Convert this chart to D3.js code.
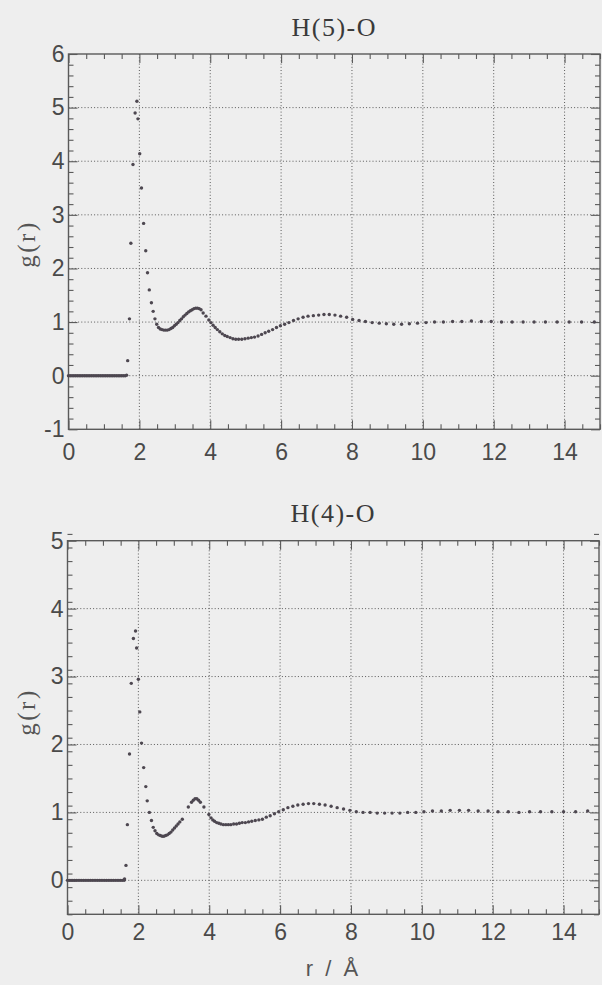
<!DOCTYPE html>
<html>
<head>
<meta charset="utf-8">
<script src="https://cdn.jsdelivr.net/npm/d3@7"></script>
<style>
  html, body { margin: 0; padding: 0; background: #eeeeee; }
  svg { display: block; }
</style>
</head>
<body>
<svg id="chart" width="602" height="985"></svg>
<script>
// ---------- data ----------
const titles = ["H(5)-O", "H(4)-O"];
const yLabel = "g(r)";
const xLabel = "r / Å";
const xTicksMajor = [0, 2, 4, 6, 8, 10, 12, 14];
const yTicksTop = [-1, 0, 1, 2, 3, 4, 5, 6];
const yTicksBottom = [0, 1, 2, 3, 4, 5];

// zero region (shared) : g(r) = 0 for small r
const rZero = [0.00,0.05,0.10,0.15,0.20,0.25,0.30,0.35,0.40,0.45,0.50,0.55,0.60,0.65,0.70,0.75,0.80,0.85,0.90,0.95,1.00,1.05,1.10,1.15,1.20,1.25,1.30,1.35,1.40,1.45,1.50,1.55,1.60];
const gZero = [0,0,0,0,0,0,0,0,0,0,0,0,0,0,0,0,0,0,0,0,0,0,0,0,0,0,0,0,0,0,0,0,0];

// H(5)-O
const rTop = [1.64,1.67,1.72,1.76,1.82,1.88,1.93,1.96,2.01,2.06,2.12,2.18,2.23,2.28,2.34,2.39,2.44,
  2.49,2.54,2.59,2.64,2.69,2.74,2.79,2.84,2.89,2.94,2.99,3.04,3.09,3.14,3.19,3.24,3.29,3.34,3.39,3.44,3.49,3.54,3.59,3.64,3.69,3.74,3.80,3.88,3.96,4.02,
  4.08,4.14,4.20,4.27,4.34,4.41,4.48,4.56,4.64,4.72,4.80,4.89,4.98,5.07,5.16,5.25,5.35,5.45,5.55,5.65,5.76,5.87,5.98,6.10,6.22,6.35,6.48,6.62,6.76,6.91,7.06,7.21,7.36,7.52,7.68,7.85,
  8.02,8.20,8.38,8.57,8.77,8.97,9.18,9.40,9.62,9.85,10.09,10.33,10.58,10.84,11.10,11.37,11.65,11.93,12.22,12.52,12.83,13.14,13.46,13.79,14.13,14.48,14.84];
const gTop = [0.01,0.28,1.06,2.47,3.94,4.90,5.12,4.79,4.14,3.50,2.84,2.33,1.92,1.60,1.36,1.20,1.06,
  0.96,0.90,0.87,0.86,0.85,0.85,0.85,0.86,0.88,0.90,0.93,0.96,0.99,1.03,1.06,1.10,1.13,1.16,1.19,1.21,1.23,1.25,1.26,1.26,1.25,1.23,1.17,1.11,1.04,0.99,
  0.94,0.90,0.86,0.82,0.78,0.75,0.73,0.71,0.69,0.68,0.68,0.68,0.69,0.70,0.71,0.72,0.74,0.77,0.80,0.83,0.86,0.90,0.93,0.96,0.99,1.03,1.06,1.09,1.11,1.12,1.13,1.14,1.14,1.13,1.11,1.09,
  1.05,1.03,1.01,0.99,0.98,0.97,0.96,0.96,0.97,0.98,0.99,1.00,1.00,1.01,1.01,1.02,1.01,1.01,1.00,1.00,1.00,1.00,1.00,1.00,1.00,1.00,1.00];

// H(4)-O
const rBottom = [1.61,1.65,1.69,1.75,1.80,1.86,1.92,1.95,2.00,2.04,2.09,2.15,2.21,2.25,2.31,2.37,
  2.42,2.47,2.52,2.57,2.62,2.67,2.72,2.77,2.82,2.87,2.92,2.97,3.02,3.07,3.12,3.17,3.24,3.41,3.50,3.55,3.60,3.65,3.70,3.75,3.85,3.99,
  4.05,4.10,4.15,4.21,4.27,4.33,4.40,4.47,4.54,4.61,4.69,4.77,4.85,4.93,5.02,5.11,5.20,5.30,5.40,5.50,5.61,5.72,5.84,5.96,6.09,6.22,6.36,6.50,6.65,6.80,6.95,7.11,7.27,7.44,7.61,7.79,7.97,
  8.15,8.34,8.54,8.74,8.95,9.16,9.38,9.60,9.83,10.06,10.30,10.55,10.80,11.06,11.32,11.59,11.87,12.15,12.44,12.74,13.04,13.35,13.67,14.00,14.34,14.68];
const gBottom = [0.02,0.22,0.82,1.86,2.90,3.56,3.67,3.42,2.96,2.48,2.02,1.66,1.38,1.17,1.00,0.88,
  0.78,0.73,0.69,0.67,0.66,0.65,0.65,0.66,0.67,0.69,0.71,0.74,0.77,0.80,0.83,0.86,0.90,1.08,1.15,1.18,1.20,1.20,1.18,1.15,1.08,0.97,
  0.92,0.89,0.87,0.85,0.84,0.83,0.82,0.82,0.82,0.82,0.83,0.83,0.84,0.85,0.85,0.86,0.87,0.88,0.89,0.90,0.93,0.95,0.98,1.01,1.04,1.07,1.09,1.11,1.12,1.13,1.13,1.12,1.11,1.09,1.07,1.05,1.03,
  1.01,1.00,1.00,0.99,0.99,0.99,0.99,1.00,1.00,1.01,1.02,1.02,1.03,1.03,1.03,1.02,1.02,1.01,1.01,1.00,1.01,1.01,1.01,1.01,1.01,1.02];

// ---------- drawing ----------
const svg = d3.select("#chart");
const ink = "#5a5a5a";
const sansFont = "'Liberation Sans', Arial, sans-serif";
const serifFont = "'Liberation Serif', 'Times New Roman', serif";
const fmtTick = d => String(d);  // plain hyphen for negatives, as in the original

const panels = [
  { title: titles[0], r: rZero.concat(rTop), g: gZero.concat(gTop), yDomain: [-1, 6], yTicks: yTicksTop,
    x0: 68.5, x1: 600, yTop: 54, yBot: 429.3, titleY: 36, xPad: 14, yLabelY: 244, showXLabel: false },
  { title: titles[1], r: rZero.concat(rBottom), g: gZero.concat(gBottom), yDomain: [-0.5, 5], yTicks: yTicksBottom,
    x0: 67.5, x1: 599, yTop: 540.7, yBot: 914.3, titleY: 522, xPad: 9, yLabelY: 712, showXLabel: true }
];

function minorRange(lo, hi, step) {
  const out = [];
  const n = Math.round((hi - lo) / step);
  for (let i = 0; i <= n; i++) out.push(+(lo + i * step).toFixed(4));
  return out;
}

panels.forEach(p => {
  const x = d3.scaleLinear().domain([0, 15]).range([p.x0, p.x1]);
  const y = d3.scaleLinear().domain(p.yDomain).range([p.yBot, p.yTop]);
  const g = svg.append("g");
  const W = p.x1 - p.x0, H = p.yBot - p.yTop;

  // grid
  g.append("g").selectAll("line").data(xTicksMajor.filter(v => v > 0)).join("line")
    .attr("x1", d => x(d)).attr("x2", d => x(d)).attr("y1", p.yTop).attr("y2", p.yBot)
    .attr("stroke", ink).attr("stroke-width", 1).attr("stroke-dasharray", "1,2.2");
  g.append("g").selectAll("line").data(p.yTicks.filter(v => v > p.yDomain[0] && v < p.yDomain[1])).join("line")
    .attr("x1", p.x0).attr("x2", p.x1).attr("y1", d => y(d)).attr("y2", d => y(d))
    .attr("stroke", ink).attr("stroke-width", 1).attr("stroke-dasharray", "1,2.2");

  const xMinor = minorRange(0, 15, 0.5).filter(v => xTicksMajor.indexOf(v) < 0);
  const yMinor = minorRange(p.yDomain[0], p.yDomain[1], 0.2).filter(v => p.yTicks.indexOf(v) < 0);

  function styleAxis(sel) {
    sel.select(".domain").remove();
    sel.selectAll(".tick line").attr("stroke", ink).attr("stroke-width", 1.1);
    sel.selectAll(".tick text").attr("fill", "#4a4a4a").style("font-family", sansFont).style("font-size", "23px");
  }

  // bottom axis (labels)
  const ax = g.append("g").attr("transform", `translate(0,${p.yBot})`)
    .call(d3.axisBottom(x).tickValues(xTicksMajor).tickSizeInner(-9).tickSizeOuter(0).tickPadding(p.xPad).tickFormat(fmtTick));
  styleAxis(ax);
  const axm = g.append("g").attr("transform", `translate(0,${p.yBot})`)
    .call(d3.axisBottom(x).tickValues(xMinor).tickSize(-5).tickFormat(""));
  styleAxis(axm);
  // top axis
  const at = g.append("g").attr("transform", `translate(0,${p.yTop})`)
    .call(d3.axisTop(x).tickValues(xTicksMajor).tickSize(-9).tickFormat(""));
  styleAxis(at);
  const atm = g.append("g").attr("transform", `translate(0,${p.yTop})`)
    .call(d3.axisTop(x).tickValues(xMinor).tickSize(-5).tickFormat(""));
  styleAxis(atm);
  // left axis
  const ay = g.append("g").attr("transform", `translate(${p.x0},0)`)
    .call(d3.axisLeft(y).tickValues(p.yTicks).tickSizeInner(-9).tickSizeOuter(0).tickPadding(4).tickFormat(fmtTick));
  styleAxis(ay);
  const aym = g.append("g").attr("transform", `translate(${p.x0},0)`)
    .call(d3.axisLeft(y).tickValues(yMinor).tickSize(-5).tickFormat(""));
  styleAxis(aym);
  // right axis
  const ar = g.append("g").attr("transform", `translate(${p.x1},0)`)
    .call(d3.axisRight(y).tickValues(p.yTicks).tickSize(-9).tickFormat(""));
  styleAxis(ar);
  const arm = g.append("g").attr("transform", `translate(${p.x1},0)`)
    .call(d3.axisRight(y).tickValues(yMinor).tickSize(-5).tickFormat(""));
  styleAxis(arm);

  // frame
  g.append("rect").attr("x", p.x0).attr("y", p.yTop).attr("width", W).attr("height", H)
    .attr("fill", "none").attr("stroke", ink).attr("stroke-width", 1.4);

  // points
  const pts = p.r.map((rv, i) => [rv, p.g[i]]);
  g.append("g").selectAll("circle").data(pts).join("circle")
    .attr("cx", d => x(d[0])).attr("cy", d => y(d[1])).attr("r", 1.7)
    .attr("fill", "#4d4750");

  // title
  svg.append("text").attr("x", (p.x0 + p.x1) / 2).attr("y", p.titleY)
    .attr("text-anchor", "middle").attr("fill", "#3a3a3a")
    .style("font-family", serifFont).style("font-size", "26px").style("letter-spacing", "1.5px")
    .text(p.title);

  // y label
  svg.append("text").attr("transform", `translate(35,${p.yLabelY}) rotate(-90)`)
    .attr("text-anchor", "middle").attr("fill", "#555")
    .style("font-family", serifFont).style("font-size", "25px").style("letter-spacing", "2.5px")
    .text(yLabel);

  if (p.showXLabel) {
    svg.append("text").attr("x", 332).attr("y", 976).attr("text-anchor", "middle")
      .attr("fill", "#555").style("font-family", sansFont).style("font-size", "22px")
      .style("white-space", "pre").text(xLabel.replace(/ /g, "\u00a0\u00a0"));
  }
});
</script>
</body>
</html>
